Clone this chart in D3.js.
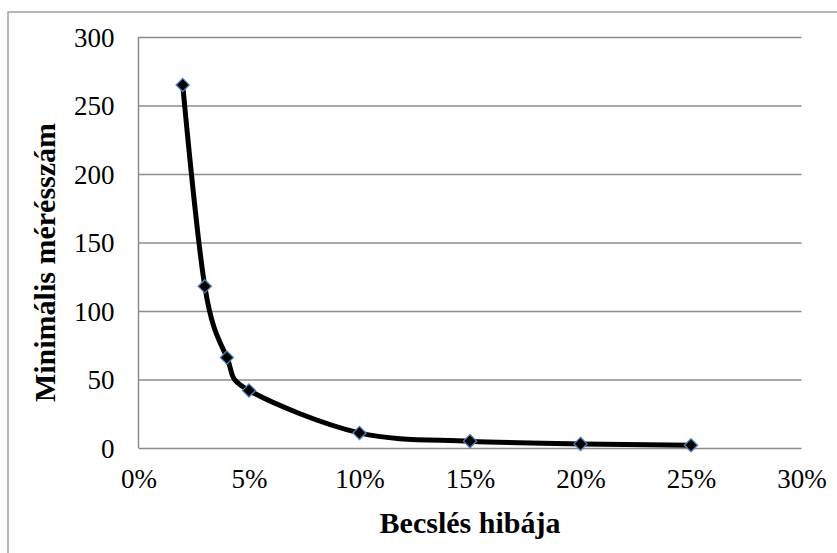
<!DOCTYPE html>
<html>
<head>
<meta charset="utf-8">
<script src="https://cdn.jsdelivr.net/npm/d3@7"></script>
<style>
  html, body { margin: 0; padding: 0; background: #ffffff; }
  svg { display: block; }
</style>
</head>
<body>
<svg id="chart" width="837" height="553"></svg>
<script>
// Estimation error (fraction) and minimal number of measurements
const errorLevels = [0.02, 0.03, 0.04, 0.05, 0.10, 0.15, 0.20, 0.25];
const minMeasurements = [265, 118, 66, 42, 11, 5, 3, 2];
const xTickValues = [0, 0.05, 0.10, 0.15, 0.20, 0.25, 0.30];
const yTickValues = [0, 50, 100, 150, 200, 250, 300];
const xTitle = "Becslés hibája";
const yTitle = "Minimális mérésszám";

const points = errorLevels.map((e, i) => ({ e, n: minMeasurements[i] }));

const svg = d3.select("#chart");
const W = 837, H = 553;
const plot = { left: 138.5, right: 801.5, top: 37, bottom: 448 };
const serif = '"Liberation Serif", "Times New Roman", serif';

// Outer chart frame
svg.append("rect")
  .attr("x", 8).attr("y", 12)
  .attr("width", W).attr("height", H)
  .attr("fill", "none")
  .attr("stroke", "#a0a0a0")
  .attr("stroke-width", 1.5);

const x = d3.scaleLinear().domain([0, 0.30]).range([plot.left, plot.right]);
const y = d3.scaleLinear().domain([0, 300]).range([plot.bottom, plot.top]);

// Horizontal gridlines with value labels
const yAxis = d3.axisLeft(y)
  .tickValues(yTickValues)
  .tickSize(-(plot.right - plot.left))
  .tickPadding(24)
  .tickFormat(d3.format("d"));

const gy = svg.append("g")
  .attr("transform", `translate(${plot.left},0)`)
  .call(yAxis);
gy.select(".domain").remove();
gy.selectAll(".tick line").attr("stroke", "#8c8c8c").attr("stroke-width", 1.5);
gy.selectAll(".tick text")
  .style("font-family", serif)
  .style("font-size", "27px")
  .attr("fill", "#000")
  .attr("dy", "0.34em");

// Vertical axis line
svg.append("line")
  .attr("x1", plot.left).attr("x2", plot.left)
  .attr("y1", plot.top).attr("y2", plot.bottom)
  .attr("stroke", "#8c8c8c").attr("stroke-width", 1.5);

// Horizontal axis labels
const xAxis = d3.axisBottom(x)
  .tickValues(xTickValues)
  .tickSize(0)
  .tickPadding(21)
  .tickFormat(d3.format(".0%"));

const gx = svg.append("g")
  .attr("transform", `translate(0,${plot.bottom})`)
  .call(xAxis);
gx.select(".domain").remove();
gx.selectAll(".tick text")
  .style("font-family", serif)
  .style("font-size", "27px")
  .attr("fill", "#000");

// Smoothed curve
const line = d3.line()
  .x(d => x(d.e))
  .y(d => y(d.n))
  .curve(d3.curveCatmullRom.alpha(0));

svg.append("path")
  .datum(points)
  .attr("d", line)
  .attr("fill", "none")
  .attr("stroke", "#000")
  .attr("stroke-width", 5)
  .attr("stroke-linejoin", "round");

// Diamond markers
const diamond = d3.symbol().type(d3.symbolDiamond2).size(110);
svg.append("g")
  .selectAll("path")
  .data(points)
  .join("path")
  .attr("transform", d => `translate(${x(d.e)},${y(d.n)})`)
  .attr("d", diamond)
  .attr("fill", "#000")
  .attr("stroke", "#4f81bd")
  .attr("stroke-width", 1.3);

// Axis titles
svg.append("text")
  .attr("x", (plot.left + plot.right) / 2)
  .attr("y", 533)
  .attr("text-anchor", "middle")
  .style("font-family", serif)
  .style("font-size", "30px")
  .style("font-weight", "bold")
  .text(xTitle);

svg.append("text")
  .attr("transform", `translate(55,${(plot.top + plot.bottom) / 2 + 20}) rotate(-90)`)
  .attr("text-anchor", "middle")
  .style("font-family", serif)
  .style("font-size", "30px")
  .style("font-weight", "bold")
  .text(yTitle);
</script>
</body>
</html>
